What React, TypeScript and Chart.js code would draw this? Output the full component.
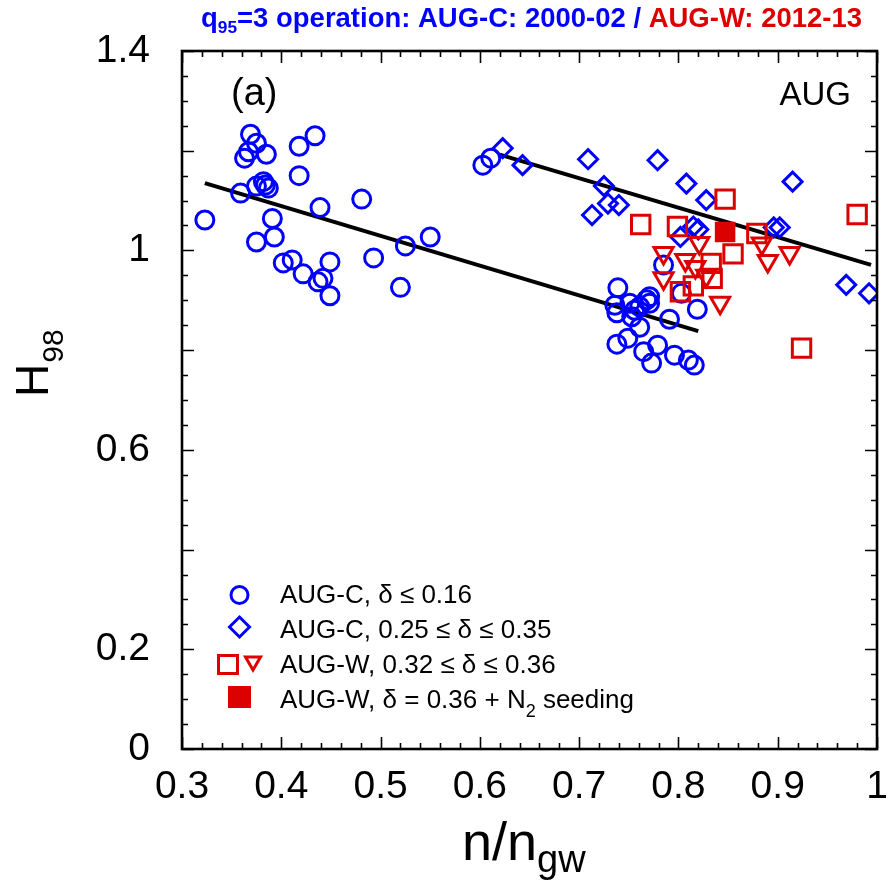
import React, { useEffect, useRef } from 'react';
import { Chart, registerables } from 'chart.js';

Chart.register(...registerables);

const BLUE = '#0000ff';
const RED = '#dd0000';
const FONT = '"Liberation Sans", Arial, Helvetica, sans-serif';

// AUG-C, delta <= 0.16 (open circles)
const circX = [0.323, 0.359, 0.363, 0.367, 0.369, 0.375, 0.385, 0.375, 0.382, 0.384, 0.387, 0.391, 0.375, 0.393, 0.402, 0.411, 0.422, 0.437, 0.442, 0.449, 0.449, 0.418, 0.434, 0.418, 0.439, 0.481, 0.493, 0.520, 0.525, 0.550, 0.603, 0.611, 0.785, 0.739, 0.736, 0.738, 0.751, 0.756, 0.753, 0.761, 0.768, 0.771, 0.771, 0.761, 0.749, 0.738, 0.765, 0.779, 0.773, 0.796, 0.810, 0.816, 0.791, 0.803, 0.819];
const circY = [1.061, 1.115, 1.185, 1.198, 1.233, 1.215, 1.193, 1.129, 1.138, 1.131, 1.125, 1.064, 1.017, 1.027, 0.975, 0.981, 0.953, 0.937, 0.944, 0.909, 0.977, 1.209, 1.230, 1.150, 1.086, 1.103, 0.985, 0.926, 1.009, 1.027, 1.171, 1.185, 0.971, 0.925, 0.890, 0.875, 0.894, 0.880, 0.867, 0.887, 0.901, 0.907, 0.894, 0.846, 0.824, 0.812, 0.797, 0.810, 0.774, 0.790, 0.780, 0.770, 0.862, 0.914, 0.882];

// AUG-C, 0.25 <= delta <= 0.35 (open diamonds)
const diaX = [0.623, 0.643, 0.709, 0.779, 0.725, 0.729, 0.740, 0.713, 0.808, 0.828, 0.915, 0.802, 0.815, 0.820, 0.896, 0.902, 0.969, 0.992];
const diaY = [1.205, 1.171, 1.183, 1.181, 1.129, 1.094, 1.091, 1.071, 1.134, 1.101, 1.138, 1.027, 1.048, 1.042, 1.046, 1.046, 0.931, 0.914];

// AUG-W, 0.32 <= delta <= 0.36 (open squares)
const sqX = [0.847, 0.762, 0.799, 0.879, 0.980, 0.855, 0.833, 0.834, 0.815, 0.802, 0.924];
const sqY = [1.103, 1.052, 1.048, 1.034, 1.072, 0.993, 0.974, 0.944, 0.929, 0.917, 0.804];

// AUG-W, 0.32 <= delta <= 0.36 (open down triangles)
const triX = [0.785, 0.821, 0.807, 0.817, 0.785, 0.828, 0.842, 0.884, 0.890, 0.912];
const triY = [0.995, 1.015, 0.981, 0.967, 0.944, 0.949, 0.895, 1.014, 0.979, 0.995];

// AUG-W, delta = 0.36 + N2 seeding (filled square)
const seedX = [0.847];
const seedY = [1.037];

// fit lines
const fitCX = [0.323, 0.820];
const fitCY = [1.135, 0.838];
const fitWX = [0.620, 0.994];
const fitWY = [1.192, 0.971];

// axis ticks
const xTickLabels = ['0.3', '0.4', '0.5', '0.6', '0.7', '0.8', '0.9', '1'];
const yTickLabels = ['0', '0.2', '0.6', '1', '1.4'];

const pts = (xs: number[], ys: number[]) => xs.map((x, i) => ({ x, y: ys[i] }));

const decor = {
  id: 'decor',
  afterDatasetsDraw(chart: any) {
    const { ctx, chartArea: a, scales } = chart;
    const xs = scales.x;
    const ys = scales.y;
    ctx.save();
    ctx.strokeStyle = '#000';
    ctx.lineWidth = 1.6;
    for (let i = 0; i <= 35; i++) {
      const v = 0.3 + i * 0.02;
      const px = Math.round(xs.getPixelForValue(v)) + 0.5;
      const len = i % 5 === 0 ? 12 : 6;
      ctx.beginPath();
      ctx.moveTo(px, a.bottom);
      ctx.lineTo(px, a.bottom - len);
      ctx.moveTo(px, a.top);
      ctx.lineTo(px, a.top + len);
      ctx.stroke();
    }
    for (let i = 0; i <= 28; i++) {
      const v = i * 0.05;
      const py = Math.round(ys.getPixelForValue(v)) + 0.5;
      const len = i % 4 === 0 ? 12 : 6;
      ctx.beginPath();
      ctx.moveTo(a.left, py);
      ctx.lineTo(a.left + len, py);
      ctx.moveTo(a.right, py);
      ctx.lineTo(a.right - len, py);
      ctx.stroke();
    }
    ctx.lineWidth = 2.6;
    ctx.strokeRect(a.left, a.top, a.right - a.left, a.bottom - a.top);
    ctx.restore();
  },
  afterDraw(chart: any) {
    const { ctx } = chart;
    ctx.save();
    ctx.textAlign = 'left';
    ctx.textBaseline = 'alphabetic';

    // Title
    const big = `bold 27px ${FONT}`;
    const small = `bold 17px ${FONT}`;
    const parts = [
      { t: 'q', f: big, c: BLUE, dy: 0 },
      { t: '95', f: small, c: BLUE, dy: 6 },
      { t: '=3 operation: AUG-C: 2000-02 / ', f: big, c: BLUE, dy: 0 },
      { t: 'AUG-W: 2012-13', f: big, c: RED, dy: 0 },
    ];
    let total = 0;
    const widths = parts.map((p) => {
      ctx.font = p.f;
      const w = ctx.measureText(p.t).width;
      total += w;
      return w;
    });
    const sx = 661 / total;
    ctx.save();
    ctx.translate(201, 27);
    ctx.scale(sx, 1);
    let cx = 0;
    parts.forEach((p, i) => {
      ctx.font = p.f;
      ctx.fillStyle = p.c;
      ctx.fillText(p.t, cx, p.dy);
      cx += widths[i];
    });
    ctx.restore();

    ctx.fillStyle = '#000';
    ctx.font = `38px ${FONT}`;
    ctx.fillText('(a)', 231, 105);
    ctx.font = `33px ${FONT}`;
    ctx.textAlign = 'right';
    ctx.fillText('AUG', 851, 105);
    ctx.textAlign = 'left';

    // X title
    ctx.font = `54px ${FONT}`;
    ctx.fillText('n/n', 462, 860);
    const wn = ctx.measureText('n/n').width;
    ctx.font = `38px ${FONT}`;
    ctx.fillText('gw', 462 + wn, 872);

    // Y title
    ctx.save();
    ctx.translate(48, 397);
    ctx.rotate(-Math.PI / 2);
    ctx.font = `46px ${FONT}`;
    ctx.fillText('H', 0, 0);
    const wh = ctx.measureText('H').width;
    ctx.font = `30px ${FONT}`;
    ctx.fillText('98', wh + 1, 15);
    ctx.restore();

    // Legend
    ctx.lineWidth = 3;
    ctx.strokeStyle = BLUE;
    ctx.beginPath();
    ctx.arc(239.5, 595, 8.5, 0, Math.PI * 2);
    ctx.stroke();
    ctx.beginPath();
    ctx.moveTo(239.5, 627 - 10);
    ctx.lineTo(239.5 + 10, 627);
    ctx.lineTo(239.5, 627 + 10);
    ctx.lineTo(239.5 - 10, 627);
    ctx.closePath();
    ctx.stroke();
    ctx.strokeStyle = RED;
    ctx.strokeRect(218.5, 655.5, 19, 18);
    ctx.beginPath();
    ctx.moveTo(245.5, 657);
    ctx.lineTo(260.5, 657);
    ctx.lineTo(253, 670);
    ctx.closePath();
    ctx.stroke();
    ctx.fillStyle = RED;
    ctx.fillRect(228, 686, 23, 22);

    ctx.fillStyle = '#000';
    ctx.font = `26px ${FONT}`;
    ctx.fillText('AUG-C, \u03B4 \u2264 0.16', 280, 603);
    ctx.fillText('AUG-C, 0.25 \u2264 \u03B4 \u2264 0.35', 280, 638);
    ctx.fillText('AUG-W, 0.32 \u2264 \u03B4 \u2264 0.36', 280, 673);
    const s1 = 'AUG-W, \u03B4 = 0.36 + N';
    ctx.fillText(s1, 280, 708);
    const w1 = ctx.measureText(s1).width;
    ctx.font = `18px ${FONT}`;
    ctx.fillText('2', 280 + w1, 717);
    const w2 = ctx.measureText('2').width;
    ctx.font = `26px ${FONT}`;
    ctx.fillText(' seeding', 280 + w1 + w2, 708);

    ctx.restore();
  },
};

export default function App() {
  const ref = useRef<HTMLCanvasElement | null>(null);

  useEffect(() => {
    if (!ref.current) return;
    const open = 'rgba(0,0,0,0)';
    const chart = new Chart(ref.current, {
      type: 'scatter',
      data: {
        datasets: [
          {
            label: 'AUG-W, δ = 0.36 + N2 seeding',
            data: pts(seedX, seedY),
            pointStyle: 'rect',
            pointRadius: 14.5,
            borderWidth: 0,
            backgroundColor: RED,
            borderColor: RED,
          },
          {
            label: 'AUG-W squares',
            data: pts(sqX, sqY),
            pointStyle: 'rect',
            pointRadius: 13,
            borderWidth: 3,
            backgroundColor: open,
            borderColor: RED,
          },
          {
            label: 'AUG-W triangles',
            data: pts(triX, triY),
            pointStyle: 'triangle',
            rotation: 180,
            pointRadius: 11,
            borderWidth: 3,
            backgroundColor: open,
            borderColor: RED,
          },
          {
            label: 'AUG-C diamonds',
            data: pts(diaX, diaY),
            pointStyle: 'rectRot',
            pointRadius: 9.5,
            borderWidth: 3,
            backgroundColor: open,
            borderColor: BLUE,
          },
          {
            label: 'AUG-C circles',
            data: pts(circX, circY),
            pointStyle: 'circle',
            pointRadius: 9,
            borderWidth: 3,
            backgroundColor: open,
            borderColor: BLUE,
          },
          {
            type: 'line',
            label: 'fit C',
            data: pts(fitCX, fitCY),
            borderColor: '#000',
            borderWidth: 4,
            pointRadius: 0,
            showLine: true,
            fill: false,
          } as any,
          {
            type: 'line',
            label: 'fit W',
            data: pts(fitWX, fitWY),
            borderColor: '#000',
            borderWidth: 4,
            pointRadius: 0,
            showLine: true,
            fill: false,
          } as any,
        ],
      },
      options: {
        animation: false,
        responsive: false,
        maintainAspectRatio: false,
        layout: { padding: { left: 0, right: 18, top: 51, bottom: 0 } },
        plugins: {
          legend: { display: false },
          tooltip: { enabled: false },
          title: { display: false },
        },
        scales: {
          x: {
            type: 'linear',
            min: 0.3,
            max: 1.0,
            grid: { display: false, drawTicks: false },
            border: { display: false },
            afterFit: (s: any) => {
              s.height = 131;
              s.paddingLeft = 0;
              s.paddingRight = 0;
            },
            ticks: {
              stepSize: 0.1,
              autoSkip: false,
              maxRotation: 0,
              padding: 15,
              color: '#000',
              font: { family: FONT, size: 39 },
              callback: (v: any) => {
                const i = Math.round((Number(v) - 0.3) * 10);
                return xTickLabels[i] ?? '';
              },
            },
          },
          y: {
            type: 'linear',
            min: 0,
            max: 1.4,
            grid: { display: false, drawTicks: false },
            border: { display: false },
            afterFit: (s: any) => {
              s.width = 182;
              s.paddingTop = 0;
              s.paddingBottom = 0;
            },
            ticks: {
              stepSize: 0.2,
              autoSkip: false,
              padding: 32,
              color: '#000',
              font: { family: FONT, size: 39 },
              callback: (v: any) => {
                const r = Math.round(Number(v) * 10) / 10;
                const s = r === 0 ? '0' : r === 1 ? '1' : r.toFixed(1);
                return yTickLabels.includes(s) ? s : '';
              },
            },
          },
        },
      },
      plugins: [decor],
    });
    return () => chart.destroy();
  }, []);

  return (
    <div style={{ position: 'absolute', left: 0, top: 0, width: 895, height: 880, background: '#fff' }}>
      <canvas ref={ref} width={895} height={880} style={{ display: 'block', width: 895, height: 880 }} />
    </div>
  );
}
